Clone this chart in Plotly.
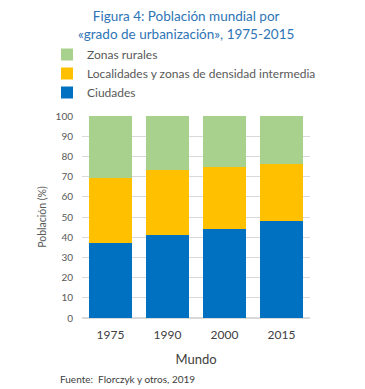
import plotly.graph_objects as go

years = ["1975", "1990", "2000", "2015"]
ciudades = [37.0, 41.1, 44.1, 47.8]
intermedia = [32.3, 32.2, 30.7, 28.5]
rurales = [30.7, 26.7, 25.2, 23.7]
series_names = ["Ciudades", "Localidades y zonas de densidad intermedia", "Zonas rurales"]
colors = ["#0070C0", "#FFC000", "#A9D18E"]
y_ticks = [0, 10, 20, 30, 40, 50, 60, 70, 80, 90, 100]

FONT = "Lato"
OFF = 8  # page body margin
W, H = 365 - OFF, 389 - OFF
L, T = 82 - OFF, 116 - OFF
R, B = W - (310 - OFF), H - (318 - OFF)
PW, PH = W - L - R, H - T - B

def px(x):
    return (x - OFF - L) / PW

def py(y):
    return (H - B - (y - OFF)) / PH

fig = go.Figure()
for name, vals, col in zip(series_names, [ciudades, intermedia, rurales], colors):
    fig.add_trace(go.Bar(x=years, y=vals, name=name, marker=dict(color=col, line=dict(width=0))))

fig.update_layout(
    barmode="stack",
    bargap=0.23,
    width=W, height=H,
    margin=dict(l=L, r=R, t=T, b=B, autoexpand=False),
    paper_bgcolor="white", plot_bgcolor="white",
    font=dict(family=FONT, color="#595959", size=10),
    showlegend=True,
    legend=dict(
        traceorder="reversed",
        x=px(47), y=py(40), xanchor="left", yanchor="top",
        font=dict(size=12, color="#595959", family=FONT),
        itemwidth=30, tracegroupgap=0,
        bgcolor="rgba(0,0,0,0)",
    ),
    xaxis=dict(
        showgrid=False, showline=False, ticks="",
        tickfont=dict(size=12, color="#404040"), ticklabelstandoff=8,
        title=dict(text="Mundo", font=dict(size=13, color="#404040"), standoff=13),
    ),
    yaxis=dict(
        range=[0, 100], tickvals=y_ticks, showgrid=True, gridcolor="#D9D9D9", gridwidth=1,
        zeroline=True, zerolinecolor="#D9D9D9", showline=False, ticks="",
        tickfont=dict(size=10, color="#595959"), ticklabelstandoff=8,
        title=dict(text="Población (%)", font=dict(size=10.5, color="#595959"), standoff=6),
    ),
    annotations=[
        dict(text="Figura 4: Población mundial por<br>«grado de urbanización», 1975-2015",
             xref="paper", yref="paper", x=px(186), y=py(24.5),
             xanchor="center", yanchor="middle", showarrow=False, align="center",
             font=dict(size=13.5, color="#2E75B6", family=FONT)),
        dict(text="Fuente:  Florczyk y otros, 2019",
             xref="paper", yref="paper", x=px(58), y=py(379),
             xanchor="left", yanchor="middle", showarrow=False,
             font=dict(size=10, color="#404040", family=FONT)),
    ],
)

fig.write_html("out.html")
